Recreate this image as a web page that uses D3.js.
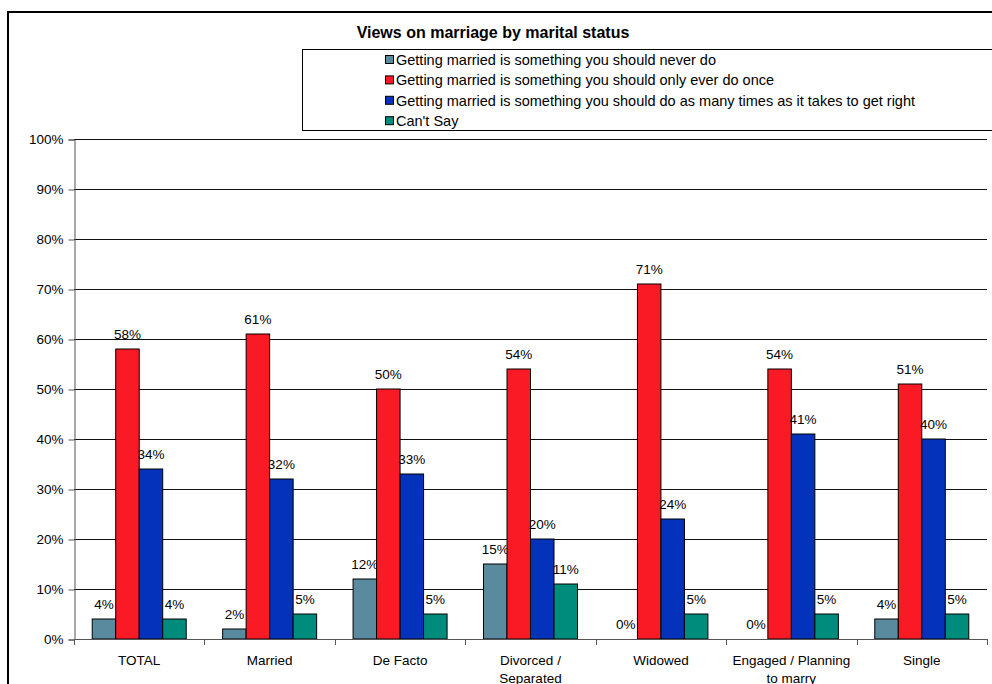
<!DOCTYPE html>
<html>
<head>
<meta charset="utf-8">
<script src="https://cdn.jsdelivr.net/npm/d3@7/dist/d3.min.js"></script>
<style>
  body { margin: 0; background: #fff; }
  svg { display: block; font-family: "Liberation Sans", Arial, sans-serif; }
</style>
</head>
<body>
<svg id="chart" width="992" height="684"></svg>
<script>
// Marital status groups and survey responses (percent)
const categories = ["TOTAL", "Married", "De Facto", "Divorced / Separated", "Widowed", "Engaged / Planning to marry", "Single"];
const categoryLines = [["TOTAL"], ["Married"], ["De Facto"], ["Divorced /", "Separated"], ["Widowed"], ["Engaged / Planning", "to marry"], ["Single"]];
const seriesNames = [
  "Getting married is something you should never do",
  "Getting married is something you should only ever do once",
  "Getting married is something you should do as many times as it takes to get right",
  "Can't Say"
];
const neverDo = [4, 2, 12, 15, 0, 0, 4];
const onlyOnce = [58, 61, 50, 54, 71, 54, 51];
const manyTimes = [34, 32, 33, 20, 24, 41, 40];
const cantSay = [4, 5, 5, 11, 5, 5, 5];
const yTicks = [0, 10, 20, 30, 40, 50, 60, 70, 80, 90, 100];
const seriesColors = ["#5A8A9E", "#FA1A25", "#0532BA", "#008C7C"];

const seriesValues = [neverDo, onlyOnce, manyTimes, cantSay];

const svg = d3.select("#chart");
const plot = { left: 74, right: 987, top: 139, bottom: 639 };

// Outer chart frame
svg.append("path")
  .attr("d", "M8,700 V12 H1000")
  .attr("fill", "none").attr("stroke", "#000").attr("stroke-width", 2);

// Title
svg.append("text")
  .attr("x", 493).attr("y", 38)
  .attr("text-anchor", "middle")
  .attr("font-size", 16).attr("font-weight", "bold")
  .text("Views on marriage by marital status");

// Legend
const legend = svg.append("g");
legend.append("rect")
  .attr("x", 302.5).attr("y", 49.5).attr("width", 720).attr("height", 81)
  .attr("fill", "#fff").attr("stroke", "#000").attr("stroke-width", 1);
seriesNames.forEach((name, i) => {
  const cy = 60 + i * 20.4;
  legend.append("rect")
    .attr("x", 385.5).attr("y", cy - 4.5).attr("width", 8).attr("height", 8)
    .attr("fill", seriesColors[i]).attr("stroke", "#000").attr("stroke-width", 1);
  legend.append("text")
    .attr("x", 396).attr("y", cy + 5)
    .attr("font-size", 14.5).text(name);
});

// Scales
const y = d3.scaleLinear().domain([0, 100]).range([plot.bottom, plot.top]);
const x0 = d3.scaleBand().domain(categories).range([plot.left, plot.right]);
const groupWidth = 94;
const inset = (x0.bandwidth() - groupWidth) / 2;
const x1 = d3.scaleBand().domain(d3.range(seriesNames.length)).range([inset, inset + groupWidth]);

// Gridlines
svg.append("g")
  .selectAll("line").data(yTicks.filter(t => t > 0)).join("line")
  .attr("x1", plot.left).attr("x2", plot.right)
  .attr("y1", d => Math.round(y(d)) + 0.5).attr("y2", d => Math.round(y(d)) + 0.5)
  .attr("stroke", "#111").attr("stroke-width", 1);

// Y axis
const yAxis = svg.append("g")
  .attr("transform", `translate(${plot.left + 0.5},0.5)`)
  .call(d3.axisLeft(y).tickValues(yTicks).tickFormat(d => d + "%").tickSize(6).tickPadding(5));
yAxis.select(".domain").attr("stroke", "#555");
yAxis.selectAll(".tick line").attr("stroke", "#555");
yAxis.selectAll("text").attr("font-size", 13.5).attr("fill", "#000")
  .attr("font-family", "Liberation Sans, Arial, sans-serif");

// Bars
const groups = svg.append("g").selectAll("g").data(categories).join("g")
  .attr("transform", d => `translate(${x0(d)},0)`);

groups.each(function (cat, ci) {
  const g = d3.select(this);
  seriesValues.forEach((vals, si) => {
    const v = vals[ci];
    const bx = x1(si);
    const bw = x1.bandwidth();
    if (v > 0) {
      g.append("rect")
        .attr("x", bx).attr("y", y(v))
        .attr("width", bw).attr("height", y(0) - y(v))
        .attr("fill", seriesColors[si]).attr("stroke", "#000").attr("stroke-width", 1);
    }
    g.append("text")
      .attr("x", bx + bw / 2).attr("y", y(v) - 10)
      .attr("text-anchor", "middle").attr("font-size", 13.5)
      .text(v + "%");
  });
});

// X axis
const xAxisG = svg.append("g");
xAxisG.append("line")
  .attr("x1", plot.left).attr("x2", plot.right)
  .attr("y1", plot.bottom + 0.5).attr("y2", plot.bottom + 0.5)
  .attr("stroke", "#555");
const boundaries = categories.map(c => x0(c)).concat([plot.right]);
xAxisG.selectAll("line.tick").data(boundaries).join("line")
  .attr("class", "tick")
  .attr("x1", d => Math.round(d) + 0.5).attr("x2", d => Math.round(d) + 0.5)
  .attr("y1", plot.bottom).attr("y2", plot.bottom + 6)
  .attr("stroke", "#555");

categoryLines.forEach((lines, ci) => {
  const cx = x0(categories[ci]) + x0.bandwidth() / 2;
  lines.forEach((line, li) => {
    xAxisG.append("text")
      .attr("x", cx).attr("y", 665 + li * 17.5)
      .attr("text-anchor", "middle").attr("font-size", 13.5)
      .text(line);
  });
});
</script>
</body>
</html>
